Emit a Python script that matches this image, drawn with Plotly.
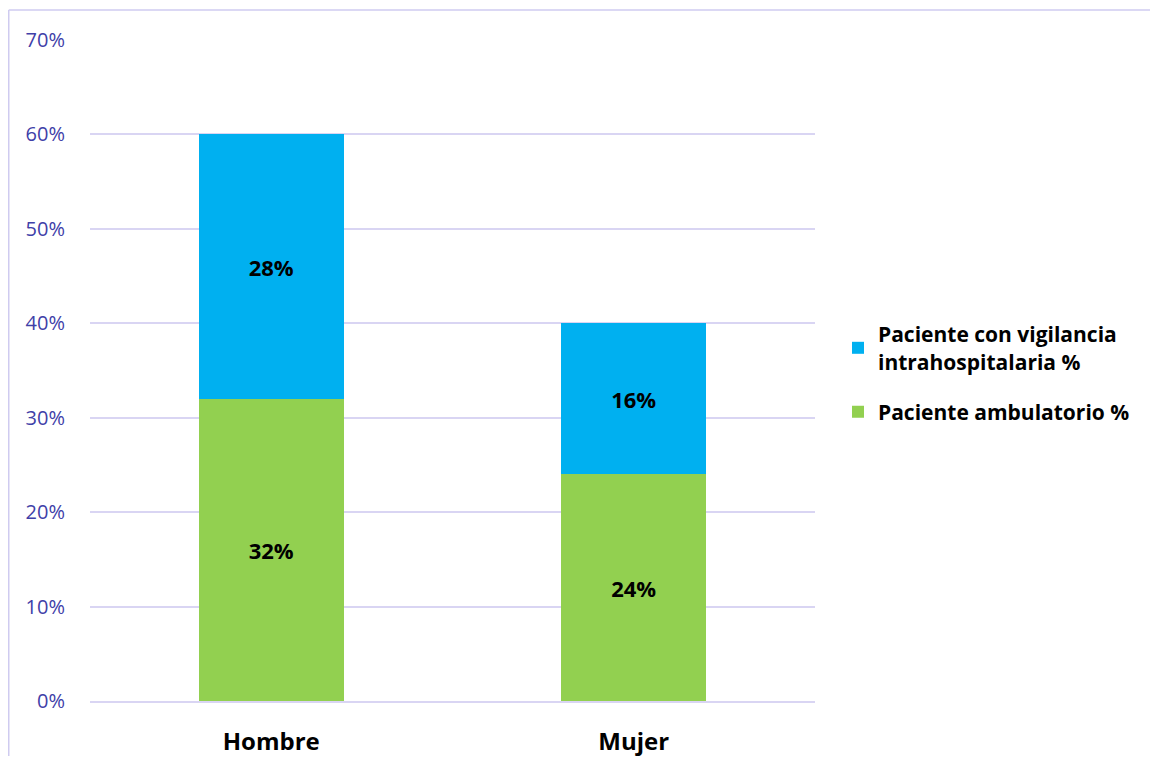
import plotly.graph_objects as go

categories = ["Hombre", "Mujer"]
ambulatorio = [32, 24]
vigilancia = [28, 16]
series_names = ["Paciente ambulatorio %", "Paciente con vigilancia<br>intrahospitalaria %"]
y_ticks = [0, 10, 20, 30, 40, 50, 60, 70]
y_tick_labels = [f"{v}%" for v in y_ticks]

# page has an 8px body margin; figure coordinates = reference pixels - 8
OFF = 8
W, H = 1142, 748
L, T = 90 - OFF, 40 - OFF
PR, PB = 815 - OFF, 701 - OFF
R, B = W - PR, H - PB
pw, ph = PR - L, PB - T

def px_x(p):
    return (p - OFF - L) / pw

def px_y(p):
    return (PB - (p - OFF)) / ph

FONT = "Open Sans, Lato, sans-serif"

fig = go.Figure()
fig.add_trace(go.Bar(
    x=categories, y=ambulatorio, name=series_names[0], legendgroup="a", legendrank=2,
    marker=dict(color="#92D050", line=dict(width=0)),
    text=[f"{v}%" for v in ambulatorio], textposition="inside",
    insidetextanchor="middle", textangle=0,
    textfont=dict(family=FONT, size=22, color="black", weight="bold"),
))
fig.add_trace(go.Bar(
    x=categories, y=vigilancia, name=series_names[1], legendgroup="b", legendrank=1,
    marker=dict(color="#00B0F0", line=dict(width=0)),
    text=[f"{v}%" for v in vigilancia], textposition="inside",
    insidetextanchor="middle", textangle=0,
    textfont=dict(family=FONT, size=22, color="black", weight="bold"),
))

fig.update_layout(
    barmode="stack",
    bargap=0.6,
    width=W, height=H,
    margin=dict(l=L, r=R, t=T, b=B, autoexpand=False),
    plot_bgcolor="white", paper_bgcolor="white",
    font=dict(family=FONT),
    showlegend=True,
    legend=dict(
        traceorder="grouped",
        x=px_x(838), xanchor="left",
        y=px_y(373), yanchor="middle",
        font=dict(family=FONT, size=21, color="black", weight="bold"),
        tracegroupgap=20,
        bgcolor="rgba(0,0,0,0)",
    ),
)
fig.update_yaxes(
    range=[0, 70], tickvals=y_ticks, ticktext=y_tick_labels,
    showgrid=True, gridcolor="#D9D5F3", gridwidth=1.5,
    zeroline=False, showline=False, automargin=False,
    tickfont=dict(family=FONT, size=20, color="#4040A8"),
    ticklabelstandoff=24,
)
fig.update_xaxes(
    showgrid=False, showline=True, linecolor="#D9D5F3", linewidth=1.5,
    automargin=False,
    tickfont=dict(family=FONT, size=24, color="black", weight="bold"),
    ticklabelstandoff=18,
)

border = "#CFCBF0"
fig.add_shape(type="line", xref="paper", yref="paper",
              x0=px_x(8.75), x1=px_x(1180), y0=px_y(10), y1=px_y(10),
              line=dict(color=border, width=1.5))
fig.add_shape(type="line", xref="paper", yref="paper",
              x0=px_x(8.75), x1=px_x(8.75), y0=px_y(10), y1=px_y(790),
              line=dict(color=border, width=1.5))

fig.write_html("out.html")
